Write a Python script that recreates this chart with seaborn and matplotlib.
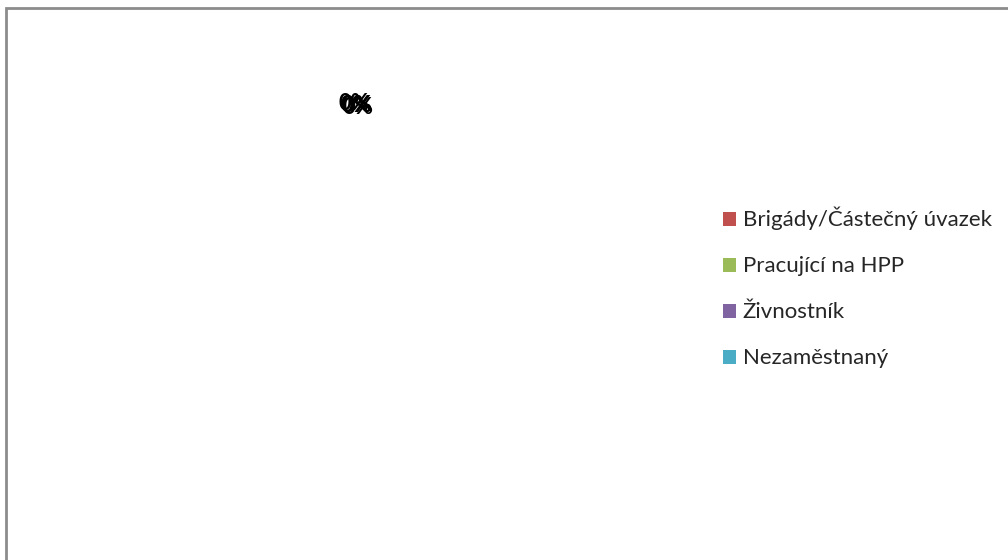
import matplotlib
matplotlib.use("Agg")
import matplotlib.pyplot as plt
import matplotlib.patches as mpatches
import seaborn as sns

categories = ["Brigády/Částečný úvazek", "Pracující na HPP", "Živnostník", "Nezaměstnaný"]
values = [0, 0, 0, 0]
colors = ["#C0504D", "#9BBB59", "#8064A2", "#4BACC6"]

sns.set_theme(style="white")
plt.rcParams["font.family"] = ["Lato", "DejaVu Sans"]

fig = plt.figure(figsize=(10.08, 5.6), dpi=100)
W, H = 1008, 560

# chart frame (runs off right and bottom edge)
fig.patches.append(mpatches.Rectangle((6 / W, -0.1), 1.1, (H - 8) / H + 0.1,
                                      transform=fig.transFigure, fill=False,
                                      edgecolor="#8c8c8c", linewidth=2))

ax = fig.add_axes([0.0, 0.0, 0.7, 1.0])
ax.set_xlim(0, 1)
ax.set_ylim(0, 1)
ax.axis("off")

# all slices are zero -> every data label lands at the top of the empty pie
total = sum(values)
offsets = [(-2, 2), (0, 0), (2, -1), (1, 1)]
for v, (dx, dy) in zip(values, offsets):
    pct = 0 if total == 0 else v / total * 100
    ax.annotate(f"{pct:.0f}%", (356 / 705.6, 1 - 106 / H), xytext=(dx, dy),
                textcoords="offset pixels", ha="center", va="center",
                fontsize=16, fontweight="bold", color="black")

handles = [mpatches.Patch(facecolor=c, edgecolor="none", label=n)
           for c, n in zip(colors, categories)]
fig.legend(handles=handles, loc="upper left", bbox_to_anchor=(714 / W, 1 - 198 / H),
           frameon=False, fontsize=16, handlelength=0.6, handleheight=0.6,
           handletextpad=0.3, labelspacing=1.17, borderaxespad=0)

fig.savefig("out.png", dpi=100, facecolor="white")
